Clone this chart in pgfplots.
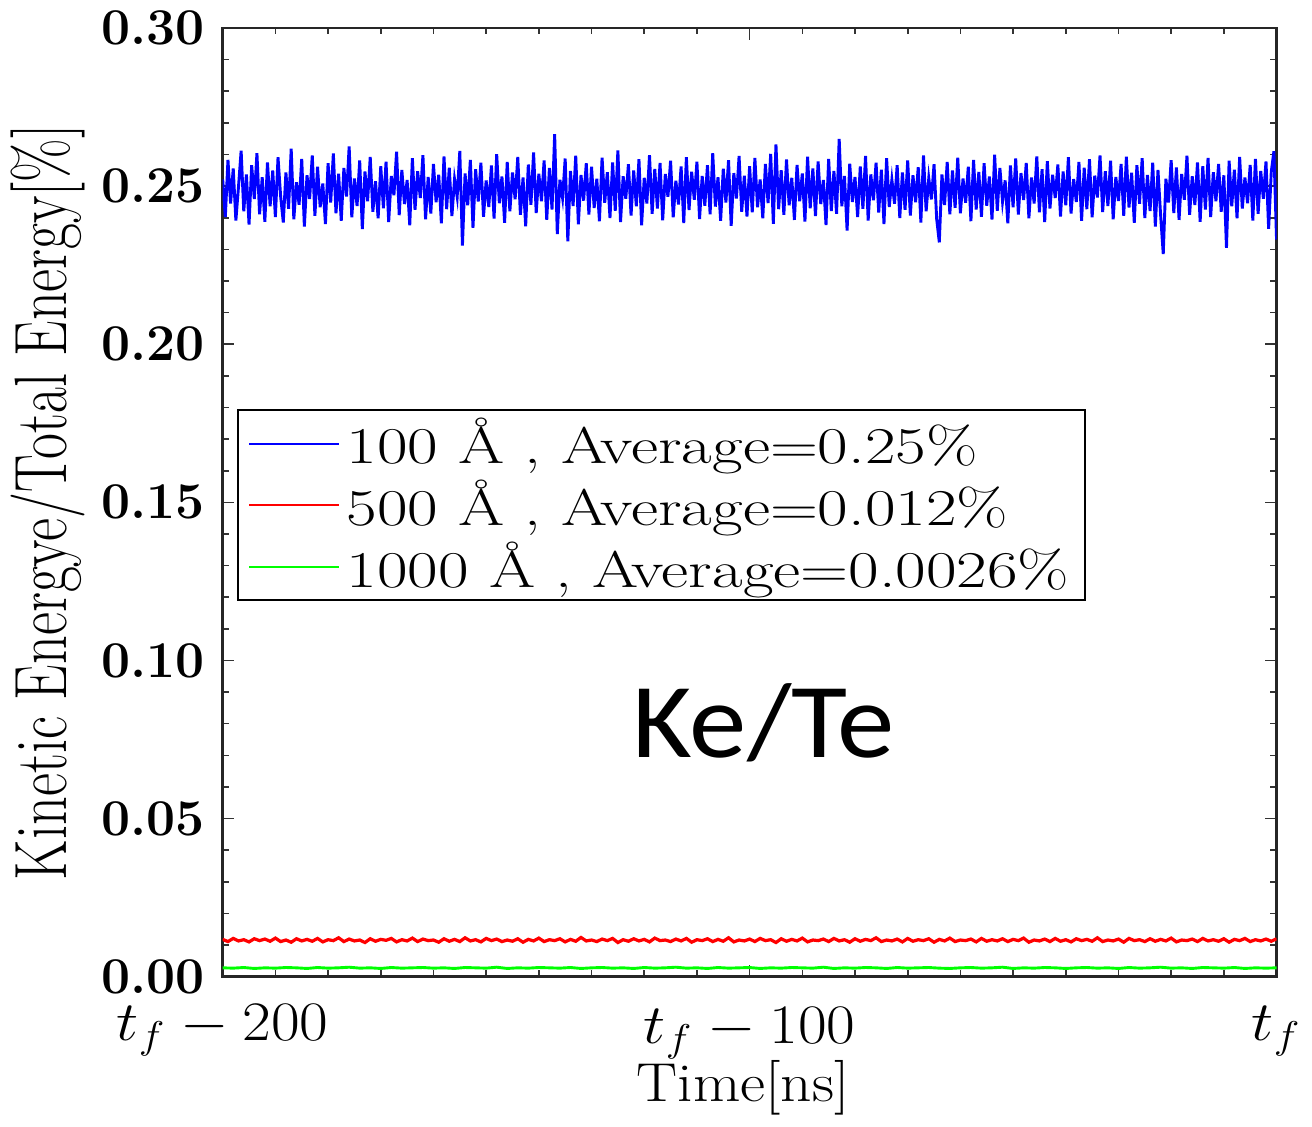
\documentclass[border=0pt]{standalone}
\usepackage{fontspec}
\usepackage{pgfplots}
\pgfplotsset{compat=1.18}
\newfontfamily\carlito{Carlito}
\definecolor{pblue}{rgb}{0,0,1}
\definecolor{pred}{rgb}{1,0,0}
\definecolor{pgreen}{rgb}{0,1,0}
\newcommand{\legtxt}[1]{\scalebox{1.29}[1]{#1}}
\newcommand{\xlbl}[1]{\scalebox{1.12}[1]{#1}}
\begin{document}
\begin{tikzpicture}
\begin{axis}[
  scale only axis,
  width=326.8pt, height=294.2pt,
  xmin=0, xmax=400, ymin=0, ymax=0.30,
  xtick={0,200,400},
  xticklabels={\xlbl{$t_f-200$}, \raisebox{-1pt}[\height]{\xlbl{$t_f-100$}}, \raisebox{-0.5pt}[\height]{\xlbl{$t_f$}}},
  minor x tick num=9,
  ytick={0,0.05,0.10,0.15,0.20,0.25,0.30},
  yticklabels={0.00,0.05,0.10,0.15,0.20,0.25,0.30},
  minor y tick num=4,
  tick align=inside,
  major tick length=3.6pt, minor tick length=2pt,
  axis line style={line width=0.8pt, black!85},
  every tick/.style={black!80, line width=0.5pt},
  yticklabel style={font=\bfseries\fontsize{16}{18}\selectfont, xshift=-2pt},
  xticklabel style={font=\fontsize{17}{20}\selectfont, yshift=-5pt},
  xlabel={\xlbl{Time[ns]}},
  xlabel style={font=\fontsize{17}{20}\selectfont, at={(axis description cs:0.494,0)}, anchor=center, yshift=-34.5pt},
  ylabel={\scalebox{0.76}[1]{Kinetic Energye/Total Energy[\%]}},
  ylabel style={font=\fontsize{23}{26}\selectfont, at={(axis description cs:-0.166,0.5)}, anchor=center},
  legend style={at={(axis description cs:0.014,0.598)}, anchor=north west, draw=black, line width=0.6pt,
    font=\fontsize{16}{18.6}\selectfont, inner xsep=3pt, inner ysep=0.5pt, row sep=-0.5pt},
  legend cell align=left,
  legend image code/.code={\draw[#1, line width=0.6pt] (3pt,0pt) -- (31pt,0pt);},
]
\addplot[pblue, line width=0.9pt] table[row sep=\\, header=false, x expr=\coordindex, y index=0] {
0.2521\\0.2402\\0.2583\\0.2445\\0.2556\\0.2391\\0.2498\\0.2612\\0.2420\\0.2537\\0.2378\\0.2566\\0.2459\\0.2604\\0.2411\\0.2528\\0.2387\\0.2575\\0.2436\\0.2549\\
0.2402\\0.2591\\0.2467\\0.2385\\0.2543\\0.2428\\0.2618\\0.2395\\0.2512\\0.2441\\0.2586\\0.2372\\0.2534\\0.2459\\0.2597\\0.2406\\0.2561\\0.2433\\0.2508\\0.2380\\
0.2572\\0.2448\\0.2603\\0.2414\\0.2539\\0.2390\\0.2557\\0.2467\\0.2625\\0.2401\\0.2524\\0.2437\\0.2581\\0.2364\\0.2546\\0.2452\\0.2592\\0.2419\\0.2515\\0.2398\\
0.2563\\0.2430\\0.2577\\0.2386\\0.2532\\0.2471\\0.2609\\0.2408\\0.2551\\0.2443\\0.2519\\0.2376\\0.2588\\0.2425\\0.2547\\0.2462\\0.2598\\0.2395\\0.2529\\0.2413\\
0.2570\\0.2449\\0.2536\\0.2382\\0.2594\\0.2427\\0.2558\\0.2405\\0.2522\\0.2466\\0.2611\\0.2312\\0.2540\\0.2439\\0.2583\\0.2368\\0.2553\\0.2451\\0.2574\\0.2403\\
0.2518\\0.2434\\0.2565\\0.2397\\0.2601\\0.2446\\0.2530\\0.2384\\0.2576\\0.2420\\0.2543\\0.2458\\0.2592\\0.2409\\0.2527\\0.2373\\0.2568\\0.2441\\0.2606\\0.2415\\
0.2539\\0.2452\\0.2581\\0.2393\\0.2557\\0.2426\\0.2664\\0.2348\\0.2520\\0.2463\\0.2587\\0.2325\\0.2548\\0.2437\\0.2596\\0.2379\\0.2535\\0.2454\\0.2572\\0.2410\\
0.2561\\0.2431\\0.2523\\0.2389\\0.2590\\0.2447\\0.2544\\0.2399\\0.2575\\0.2422\\0.2613\\0.2386\\0.2531\\0.2460\\0.2569\\0.2407\\0.2549\\0.2436\\0.2585\\0.2376\\
0.2526\\0.2445\\0.2598\\0.2412\\0.2554\\0.2429\\0.2573\\0.2392\\0.2538\\0.2466\\0.2580\\0.2401\\0.2517\\0.2442\\0.2562\\0.2383\\0.2591\\0.2424\\0.2545\\0.2457\\
0.2577\\0.2396\\0.2532\\0.2438\\0.2566\\0.2411\\0.2604\\0.2435\\0.2528\\0.2390\\0.2555\\0.2448\\0.2582\\0.2374\\0.2541\\0.2461\\0.2595\\0.2419\\0.2533\\0.2404\\
0.2563\\0.2417\\0.2589\\0.2433\\0.2521\\0.2398\\0.2570\\0.2446\\0.2602\\0.2381\\0.2632\\0.2427\\0.2550\\0.2409\\0.2584\\0.2439\\0.2526\\0.2393\\0.2567\\0.2452\\
0.2540\\0.2388\\0.2593\\0.2430\\0.2556\\0.2405\\0.2578\\0.2443\\0.2519\\0.2377\\0.2586\\0.2421\\0.2548\\0.2412\\0.2649\\0.2436\\0.2532\\0.2359\\0.2571\\0.2450\\
0.2529\\0.2402\\0.2562\\0.2428\\0.2595\\0.2391\\0.2537\\0.2455\\0.2574\\0.2416\\0.2552\\0.2380\\0.2588\\0.2434\\0.2520\\0.2444\\0.2566\\0.2399\\0.2543\\0.2425\\
0.2581\\0.2407\\0.2534\\0.2449\\0.2560\\0.2385\\0.2597\\0.2420\\0.2525\\0.2458\\0.2569\\0.2396\\0.2322\\0.2537\\0.2440\\0.2576\\0.2411\\0.2549\\0.2431\\0.2590\\
0.2414\\0.2524\\0.2447\\0.2561\\0.2389\\0.2583\\0.2426\\0.2545\\0.2403\\0.2572\\0.2438\\0.2530\\0.2394\\0.2599\\0.2422\\0.2557\\0.2451\\0.2518\\0.2382\\0.2565\\
0.2433\\0.2587\\0.2410\\0.2541\\0.2456\\0.2573\\0.2398\\0.2527\\0.2445\\0.2594\\0.2417\\0.2553\\0.2386\\0.2579\\0.2429\\0.2536\\0.2462\\0.2568\\0.2404\\0.2546\\
0.2439\\0.2591\\0.2413\\0.2522\\0.2450\\0.2576\\0.2390\\0.2558\\0.2427\\0.2585\\0.2401\\0.2533\\0.2464\\0.2597\\0.2418\\0.2547\\0.2437\\0.2580\\0.2395\\0.2529\\
0.2453\\0.2570\\0.2406\\0.2593\\0.2432\\0.2542\\0.2384\\0.2566\\0.2444\\0.2588\\0.2399\\0.2535\\0.2421\\0.2574\\0.2372\\0.2551\\0.2408\\0.2285\\0.2523\\0.2448\\
0.2582\\0.2415\\0.2559\\0.2393\\0.2538\\0.2457\\0.2596\\0.2409\\0.2531\\0.2440\\0.2575\\0.2387\\0.2563\\0.2426\\0.2589\\0.2402\\0.2544\\0.2452\\0.2570\\0.2419\\
0.2534\\0.2305\\0.2580\\0.2436\\0.2552\\0.2398\\0.2592\\0.2429\\0.2527\\0.2446\\0.2567\\0.2391\\0.2586\\0.2412\\0.2548\\0.2460\\0.2578\\0.2365\\0.2545\\0.2610\\
0.2331\\
};
\addlegendentry{\legtxt{100 Å , Average=0.25\%}}
\addplot[pred, line width=1.0pt] table[row sep=\\, header=false, x expr=\coordindex*2, y index=0] {
0.0118\\0.0111\\0.0121\\0.0113\\0.0117\\0.0110\\0.0120\\0.0114\\0.0119\\0.0112\\0.0122\\0.0111\\0.0116\\0.0109\\0.0120\\0.0113\\0.0118\\0.0112\\0.0121\\0.0110\\
0.0117\\0.0114\\0.0123\\0.0111\\0.0119\\0.0113\\0.0116\\0.0108\\0.0120\\0.0112\\0.0118\\0.0115\\0.0121\\0.0110\\0.0117\\0.0113\\0.0122\\0.0111\\0.0119\\0.0114\\
0.0116\\0.0109\\0.0120\\0.0112\\0.0118\\0.0111\\0.0123\\0.0113\\0.0117\\0.0110\\0.0121\\0.0114\\0.0119\\0.0111\\0.0116\\0.0112\\0.0120\\0.0109\\0.0118\\0.0113\\
0.0122\\0.0111\\0.0117\\0.0114\\0.0120\\0.0110\\0.0118\\0.0112\\0.0124\\0.0113\\0.0116\\0.0111\\0.0119\\0.0114\\0.0121\\0.0108\\0.0117\\0.0112\\0.0120\\0.0113\\
0.0118\\0.0110\\0.0122\\0.0114\\0.0116\\0.0111\\0.0119\\0.0113\\0.0121\\0.0109\\0.0117\\0.0114\\0.0120\\0.0111\\0.0118\\0.0112\\0.0123\\0.0110\\0.0116\\0.0113\\
0.0119\\0.0111\\0.0121\\0.0114\\0.0117\\0.0108\\0.0120\\0.0112\\0.0118\\0.0113\\0.0122\\0.0110\\0.0116\\0.0114\\0.0119\\0.0111\\0.0121\\0.0113\\0.0117\\0.0109\\
0.0120\\0.0112\\0.0118\\0.0114\\0.0123\\0.0111\\0.0116\\0.0113\\0.0119\\0.0110\\0.0121\\0.0112\\0.0117\\0.0114\\0.0120\\0.0109\\0.0118\\0.0113\\0.0122\\0.0111\\
0.0116\\0.0114\\0.0119\\0.0110\\0.0121\\0.0112\\0.0117\\0.0113\\0.0120\\0.0111\\0.0118\\0.0114\\0.0122\\0.0109\\0.0116\\0.0113\\0.0119\\0.0111\\0.0121\\0.0112\\
0.0117\\0.0110\\0.0120\\0.0114\\0.0118\\0.0112\\0.0123\\0.0111\\0.0116\\0.0113\\0.0119\\0.0109\\0.0121\\0.0114\\0.0117\\0.0111\\0.0120\\0.0112\\0.0118\\0.0113\\
0.0122\\0.0110\\0.0116\\0.0114\\0.0119\\0.0111\\0.0121\\0.0113\\0.0117\\0.0112\\0.0120\\0.0109\\0.0118\\0.0114\\0.0121\\0.0111\\0.0117\\0.0113\\0.0119\\0.0112\\
0.0120\\
};
\addlegendentry{\legtxt{500 Å , Average=0.012\%}}
\addplot[pgreen, line width=0.9pt] table[row sep=\\, header=false, x expr=\coordindex*4, y index=0] {
0.0028\\0.0027\\0.0029\\0.0026\\0.0028\\0.0027\\0.0029\\0.0028\\0.0026\\0.0029\\0.0027\\0.0028\\0.0030\\0.0027\\0.0028\\0.0026\\0.0029\\0.0027\\0.0028\\0.0029\\
0.0027\\0.0028\\0.0026\\0.0029\\0.0028\\0.0027\\0.0030\\0.0026\\0.0028\\0.0027\\0.0029\\0.0028\\0.0027\\0.0029\\0.0026\\0.0028\\0.0029\\0.0027\\0.0028\\0.0026\\
0.0029\\0.0027\\0.0028\\0.0030\\0.0027\\0.0028\\0.0026\\0.0029\\0.0027\\0.0028\\0.0029\\0.0026\\0.0028\\0.0027\\0.0029\\0.0028\\0.0027\\0.0030\\0.0026\\0.0028\\
0.0027\\0.0029\\0.0028\\0.0026\\0.0029\\0.0027\\0.0028\\0.0029\\0.0027\\0.0026\\0.0028\\0.0029\\0.0027\\0.0028\\0.0030\\0.0026\\0.0028\\0.0027\\0.0029\\0.0028\\
0.0026\\0.0028\\0.0029\\0.0027\\0.0028\\0.0026\\0.0029\\0.0027\\0.0028\\0.0030\\0.0027\\0.0028\\0.0026\\0.0029\\0.0028\\0.0027\\0.0029\\0.0026\\0.0028\\0.0027\\
0.0028\\
};
\addlegendentry{\legtxt{1000 Å , Average=0.0026\%}}
\node[font=\carlito\fontsize{33}{40}\selectfont, anchor=center] at (axis description cs:0.513,0.268) {\scalebox{1.08}[1]{Ke/Te}};
\end{axis}
\end{tikzpicture}
\end{document}
